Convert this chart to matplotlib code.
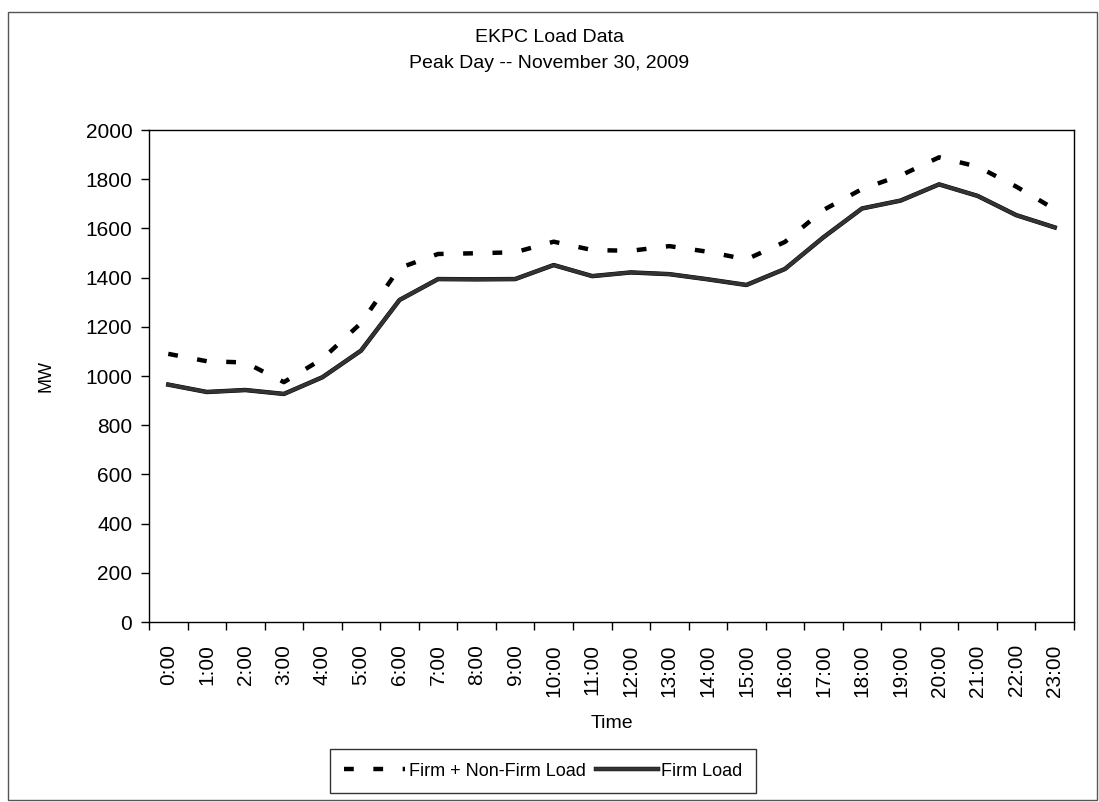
import matplotlib.pyplot as plt
import numpy as np
from matplotlib.patches import Rectangle
import matplotlib.patheffects as pe

plt.rcParams['font.family'] = ['Liberation Sans', 'DejaVu Sans']

hours = [f"{h}:00" for h in range(24)]
firm_nonfirm = [1090, 1060, 1055, 975, 1070, 1215, 1439, 1496, 1499, 1503, 1546, 1512,
                1509, 1528, 1505, 1474, 1545, 1675, 1760, 1815, 1889, 1851, 1770, 1678]
firm = [965, 935, 943, 927, 995, 1103, 1309, 1394, 1393, 1394, 1451, 1406,
        1421, 1414, 1393, 1370, 1435, 1564, 1681, 1713, 1779, 1732, 1654, 1604]

fig = plt.figure(figsize=(10.99, 8.02), dpi=100)
ax = fig.add_axes([149/1099, 1-622/802, (1074-149)/1099, (622-130)/802])

x = np.arange(len(hours))
ax.plot(x, firm_nonfirm, color='black', lw=3.2, dashes=(2.2, 4.4),
        label='Firm + Non-Firm Load', dash_capstyle='butt')
ax.plot(x, firm, color='#333333', lw=2.6, label='Firm Load',
        path_effects=[pe.Stroke(linewidth=3.2, foreground='black'), pe.Normal()])

ax.set_xlim(-0.5, 23.5)
ax.set_ylim(0, 2000)
ax.set_yticks(np.arange(0, 2001, 200))
ax.set_xticks(x)
ax.set_xticklabels(hours, rotation=90, fontsize=15)
ax.set_xticks(np.arange(-0.5, 24, 1), minor=True)
ax.tick_params(axis='x', which='major', length=0, pad=16)
ax.tick_params(axis='x', which='minor', length=6, direction='out', width=1)
ax.tick_params(axis='y', which='major', length=6, direction='out', width=1, labelsize=15, pad=6)
for s in ax.spines.values():
    s.set_linewidth(1.0)

ax.set_xlabel('Time', fontsize=14, labelpad=13)
ax.set_ylabel('MW', fontsize=13, labelpad=22)

fig.text(0.5, 1-37/802, 'EKPC Load Data', ha='center', va='center', fontsize=14)
fig.text(0.5, 1-63/802, 'Peak Day -- November 30, 2009', ha='center', va='center', fontsize=14)

leg = ax.legend(loc='center', bbox_to_anchor=(543/1099, 1-771/802),
                bbox_transform=fig.transFigure, ncol=2, fontsize=13,
                frameon=True, fancybox=False, edgecolor='black',
                handlelength=3.4, handletextpad=0.2, columnspacing=0.6,
                borderpad=0.75)
leg.get_frame().set_linewidth(1.0)

fig.patches.append(Rectangle((8/1099, 1-800/802), (1097-8)/1099, (800-12)/802,
                             transform=fig.transFigure, fill=False,
                             edgecolor='#555555', lw=1.0))

fig.savefig('out.png', dpi=100)
